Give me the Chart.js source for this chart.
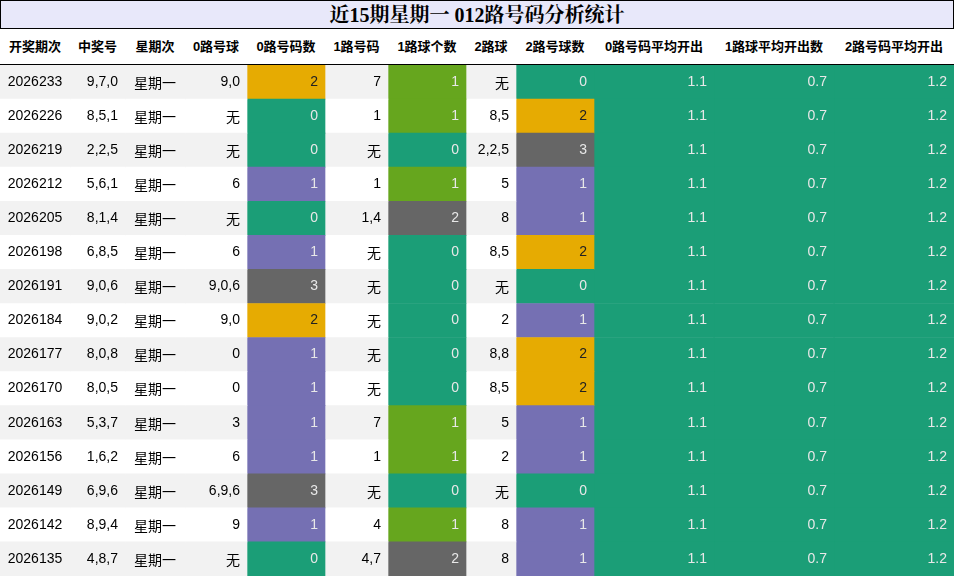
<!DOCTYPE html>
<html><head><meta charset="utf-8">
<script src="https://cdn.jsdelivr.net/npm/chart.js@4/dist/chart.umd.min.js"></script>
<style>
body{margin:0;width:954px;height:576px;overflow:hidden;background:#fff;font-family:"Liberation Sans","Noto Sans CJK SC",sans-serif}
#title{position:absolute;left:0;top:0;width:952px;height:27px;border:1px solid #000;background:#e8e8fa;text-align:center;font:bold 20px "Liberation Serif","Noto Serif CJK SC","Noto Sans CJK SC",serif;line-height:28px}
#head{position:absolute;left:0;top:29px;width:954px;height:35px;border-bottom:1px solid #000}
#head div{position:absolute;top:0;line-height:36px;font-weight:bold;font-size:13px;text-align:center}
#wrap{position:absolute;left:0;top:65px;width:954px;height:511px}
</style></head><body>
<div id="title">近15期星期一 012路号码分析统计</div>
<div id="head"></div>
<div id="wrap"><canvas id="c"></canvas></div>
<script>
const headers = ['开奖期次','中奖号','星期次','0路号球','0路号码数','1路号码','1路球个数','2路球','2路号球数','0路号码平均开出','1路球平均开出数','2路号码平均开出'];
const colEdges = [0,70,125,185,247,325,388,466,516,594,714,834,954];
const issues = ['2026233','2026226','2026219','2026212','2026205','2026198','2026191','2026184','2026177','2026170','2026163','2026156','2026149','2026142','2026135'];
const numbers = ['9,7,0','8,5,1','2,2,5','5,6,1','8,1,4','6,8,5','9,0,6','9,0,2','8,0,8','8,0,5','5,3,7','1,6,2','6,9,6','8,9,4','4,8,7'];
const weekday = issues.map(() => '星期一');
const road0 = ['9,0','无','无','6','无','6','9,0,6','9,0','0','0','3','6','6,9,6','9','无'];
const road0Count = [2,0,0,1,0,1,3,2,1,1,1,1,3,1,0];
const road1 = ['7','1','无','1','1,4','无','无','无','无','无','7','1','无','4','4,7'];
const road1Count = [1,1,0,1,2,0,0,0,0,0,1,1,0,1,2];
const road2 = ['无','8,5','2,2,5','5','8','8,5','无','2','8,8','8,5','5','2','无','8','8'];
const road2Count = [0,2,3,1,1,2,0,1,2,2,1,1,0,1,1];
const avg0 = issues.map(() => '1.1');
const avg1 = issues.map(() => '0.7');
const avg2 = issues.map(() => '1.2');

const TEAL = '#1b9e77', ORANGE = '#e6ab02', PURPLE = '#7570b3', GRAY = '#666666', LIME = '#66a61e';
const map0 = {0: TEAL, 1: PURPLE, 2: ORANGE, 3: GRAY};
const map1 = {0: TEAL, 1: LIME, 2: GRAY};
const columns = [issues, numbers, weekday, road0, road0Count, road1, road1Count, road2, road2Count, avg0, avg1, avg2];
const colorMaps = {4: map0, 6: map1, 8: map0};
const alignCenter = [0, 2];

const head = document.getElementById('head');
headers.forEach((h, i) => {
  const d = document.createElement('div');
  d.style.left = colEdges[i] + 'px';
  d.style.width = (colEdges[i + 1] - colEdges[i]) + 'px';
  d.textContent = h;
  head.appendChild(d);
});

function cellColor(ci, ri) {
  if (colorMaps[ci]) return colorMaps[ci][columns[ci][ri]];
  if (ci >= 9) return TEAL;
  return ri % 2 === 0 ? '#f2f2f2' : '#ffffff';
}
function textColor(bg) {
  if (bg === ORANGE) return '#222';
  if (bg === '#f2f2f2' || bg === '#ffffff') return '#000';
  return '#e8e8e8';
}

const datasets = columns.map((col, ci) => ({
  data: issues.map(() => [colEdges[ci], colEdges[ci + 1]]),
  backgroundColor: issues.map((_, ri) => cellColor(ci, ri)),
  borderWidth: 0, barPercentage: 1, categoryPercentage: 1, grouped: false
}));

const cellText = {
  id: 'cellText',
  afterDatasetsDraw(chart) {
    const ctx = chart.ctx;
    ctx.save();
    ctx.font = '14px "Liberation Sans","Noto Sans CJK SC",sans-serif';
    ctx.textBaseline = 'middle';
    columns.forEach((col, ci) => {
      const meta = chart.getDatasetMeta(ci);
      meta.data.forEach((bar, ri) => {
        const bg = cellColor(ci, ri);
        ctx.fillStyle = textColor(bg);
        const txt = String(col[ri]);
        const off = /[\u4e00-\u9fff]/.test(txt) ? 2 : 0;
        if (alignCenter.includes(ci)) {
          ctx.textAlign = 'center';
          ctx.fillText(txt, (bar.x + bar.base) / 2, bar.y + off);
        } else {
          ctx.textAlign = 'right';
          ctx.fillText(txt, bar.x - 7, bar.y + off);
        }
      });
    });
    ctx.restore();
  }
};

new Chart(document.getElementById('c'), {
  type: 'bar',
  data: { labels: issues, datasets },
  options: {
    indexAxis: 'y', responsive: true, maintainAspectRatio: false, animation: false,
    layout: { padding: 0 },
    plugins: { legend: { display: false }, tooltip: { enabled: false } },
    scales: {
      x: { type: 'linear', min: 0, max: 954, display: false },
      y: { display: false }
    }
  },
  plugins: [cellText]
});
</script>
</body></html>
